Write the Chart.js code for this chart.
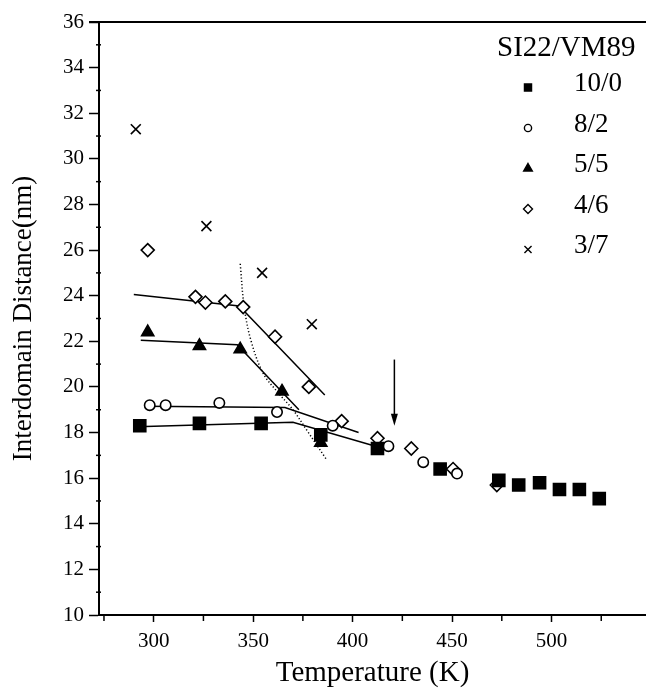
<!DOCTYPE html>
<html>
<head>
<meta charset="utf-8">
<script src="https://cdn.jsdelivr.net/npm/chart.js@4/dist/chart.umd.min.js"></script>
<style>
  html, body { margin: 0; padding: 0; background: #fff; }
  #wrap { width: 646px; height: 688px; }
</style>
</head>
<body>
<div id="wrap"><canvas id="chart" width="646" height="688"></canvas></div>
<script>
// measured points (Temperature K, Interdomain distance nm)
const sq_x = [293, 323, 354, 384, 412.5, 444, 473.5, 483.5, 494, 504, 514, 524];
const sq_y = [18.3, 18.4, 18.4, 17.9, 17.3, 16.4, 15.9, 15.7, 15.8, 15.5, 15.5, 15.1];

const circ_x = [298, 306, 333, 362, 390, 418, 435.5, 452.5];
const circ_y = [19.2, 19.2, 19.3, 18.9, 18.3, 17.4, 16.7, 16.2];

const tri_x = [297, 323, 343.5, 364.5, 384];
const tri_y = [22.4, 21.8, 21.65, 19.8, 17.55];

const dia_x = [297, 321, 326, 336, 345, 361, 378, 394.5, 412.5, 429.5, 450.5, 472.5];
const dia_y = [26.0, 23.95, 23.7, 23.75, 23.5, 22.2, 20.0, 18.5, 17.75, 17.3, 16.4, 15.7];

const cross_x = [291, 326.5, 354.5, 379.5];
const cross_y = [31.3, 27.05, 25.0, 22.75];

// fitted lines
const fitSq_x = [291.5, 370, 411.5];
const fitSq_y = [18.25, 18.45, 17.4];
const fitCirc_x = [295.5, 366, 403];
const fitCirc_y = [19.15, 19.1, 18.0];
const fitTri_x = [293.5, 342, 373];
const fitTri_y = [22.05, 21.85, 19.0];
const fitDia_x = [290, 343, 386];
const fitDia_y = [24.05, 23.55, 19.65];

// dotted guide curve
const dot_x = [343.5, 345.5, 349, 355, 362, 370, 377, 387];
const dot_y = [25.4, 23.5, 22.0, 20.6, 19.8, 19.0, 18.1, 16.8];

// arrow
const arrow_x = [421, 421];
const arrow_y = [21.2, 18.3];

const xTicks = [275, 300, 325, 350, 375, 400, 425, 450, 475, 500, 525];
const legendTitle = 'SI22/VM89';
const legendLabels = ['10/0', '8/2', '5/5', '4/6', '3/7'];

const serif = "'Liberation Serif', 'DejaVu Serif', serif";

function pts(xs, ys) {
    return xs.map((x, i) => ({ x: x, y: ys[i] }));
}

function markerSet(label, xs, ys, m) {
    return {
        label: label,
        data: pts(xs, ys),
        showLine: false,
        pointStyle: m.style,
        pointRadius: m.radius,
        pointBorderWidth: 1.6,
        pointBorderColor: '#000',
        pointBackgroundColor: m.filled ? '#000' : '#fff',
        order: 1
    };
}

function lineSet(xs, ys, dashed) {
    return {
        label: '',
        data: pts(xs, ys),
        showLine: true,
        borderColor: '#000',
        borderWidth: 1.5,
        borderDash: dashed ? [1.2, 2.2] : [],
        tension: dashed ? 0.35 : 0,
        pointRadius: 0,
        fill: false,
        order: 2
    };
}

const markers = [
    { style: 'rect', radius: 8.5, filled: true, legendRadius: 5 },
    { style: 'circle', radius: 5.2, filled: false, legendRadius: 3.6 },
    { style: 'triangle', radius: 7, filled: true, legendRadius: 5 },
    { style: 'rectRot', radius: 6.5, filled: false, legendRadius: 4.5 },
    { style: 'crossRot', radius: 7, filled: false, legendRadius: 5 }
];

const isMajorY = v => v % 2 === 0;
const isMajorX = v => v % 50 === 0;

const framePlugin = {
    id: 'frame',
    afterDraw(chart) {
        const ctx = chart.ctx;
        const area = chart.chartArea;
        const xs = chart.scales.x, ys = chart.scales.y;
        ctx.save();
        ctx.strokeStyle = '#000';
        // top border
        ctx.lineWidth = 2;
        ctx.beginPath();
        ctx.moveTo(area.left - 10, area.top);
        ctx.lineTo(area.right, area.top);
        ctx.stroke();

        // minor ticks
        ctx.lineWidth = 1.5;
        ys.ticks.forEach(t => {
            if (isMajorY(t.value)) return;
            const py = ys.getPixelForValue(t.value);
            ctx.beginPath();
            ctx.moveTo(area.left - 3, py);
            ctx.lineTo(area.left + 2, py);
            ctx.stroke();
        });
        xs.ticks.forEach(t => {
            if (isMajorX(t.value)) return;
            const px = xs.getPixelForValue(t.value);
            ctx.beginPath();
            ctx.moveTo(px, area.bottom);
            ctx.lineTo(px, area.bottom + 6);
            ctx.stroke();
        });

        // arrow
        const ax = xs.getPixelForValue(arrow_x[0]);
        const ay0 = ys.getPixelForValue(arrow_y[0]);
        const ay1 = ys.getPixelForValue(arrow_y[1]);
        ctx.lineWidth = 1.5;
        ctx.beginPath();
        ctx.moveTo(ax, ay0);
        ctx.lineTo(ax, ay1 - 6);
        ctx.stroke();
        ctx.fillStyle = '#000';
        ctx.beginPath();
        ctx.moveTo(ax, ay1);
        ctx.lineTo(ax - 3.5, ay1 - 12);
        ctx.lineTo(ax + 3.5, ay1 - 12);
        ctx.closePath();
        ctx.fill();

        // legend
        ctx.fillStyle = '#000';
        ctx.textBaseline = 'middle';
        ctx.textAlign = 'left';
        ctx.font = '29px ' + serif;
        ctx.fillText(legendTitle, 497, 48);
        ctx.font = '27px ' + serif;
        legendLabels.forEach((lab, i) => {
            const y = 84 + i * 40.5;
            const m = markers[i];
            ctx.fillStyle = m.filled ? '#000' : '#fff';
            ctx.strokeStyle = '#000';
            ctx.lineWidth = 1.4;
            Chart.helpers.drawPoint(ctx, { pointStyle: m.style, radius: m.legendRadius, rotation: 0, borderWidth: 1.4 }, 528, y + 3.5);
            ctx.fillStyle = '#000';
            ctx.fillText(lab, 574, y);
        });
        ctx.restore();
    }
};

new Chart(document.getElementById('chart'), {
    type: 'scatter',
    data: {
        datasets: [
            lineSet(fitSq_x, fitSq_y, false),
            lineSet(fitCirc_x, fitCirc_y, false),
            lineSet(fitTri_x, fitTri_y, false),
            lineSet(fitDia_x, fitDia_y, false),
            lineSet(dot_x, dot_y, true),
            markerSet(legendLabels[0], sq_x, sq_y, markers[0]),
            markerSet(legendLabels[1], circ_x, circ_y, markers[1]),
            markerSet(legendLabels[2], tri_x, tri_y, markers[2]),
            markerSet(legendLabels[3], dia_x, dia_y, markers[3]),
            markerSet(legendLabels[4], cross_x, cross_y, markers[4])
        ]
    },
    options: {
        responsive: false,
        animation: false,
        layout: {
            autoPadding: false,
            padding: { top: 22, right: 0, left: 0, bottom: 0 }
        },
        plugins: {
            legend: { display: false },
            tooltip: { enabled: false }
        },
        scales: {
            x: {
                type: 'linear',
                min: 272.5,
                max: 547.5,
                afterBuildTicks: function(scale) {
                    scale.ticks = xTicks.map(v => ({ value: v }));
                },
                afterFit: function(scale) {
                    scale.height = 73;
                    scale.paddingLeft = 0;
                    scale.paddingRight = 0;
                },
                ticks: {
                    color: '#000',
                    font: { family: serif, size: 21 },
                    padding: 7,
                    maxRotation: 0,
                    autoSkip: false,
                    callback: function(value) {
                        return isMajorX(value) ? String(value) : '';
                    }
                },
                grid: {
                    drawOnChartArea: false,
                    drawTicks: true,
                    tickLength: 7,
                    tickColor: ctx => (ctx.tick && isMajorX(ctx.tick.value)) ? '#000' : 'rgba(0,0,0,0)',
                    tickWidth: 1.5
                },
                border: { display: true, color: '#000', width: 2 },
                title: {
                    display: true,
                    text: 'Temperature (K)',
                    color: '#000',
                    font: { family: serif, size: 29, lineHeight: 1 },
                    padding: { top: 0, bottom: 0 }
                }
            },
            y: {
                type: 'linear',
                min: 10,
                max: 36,
                afterFit: function(scale) {
                    scale.width = 99;
                },
                ticks: {
                    stepSize: 1,
                    color: '#000',
                    font: { family: serif, size: 21 },
                    padding: 5,
                    autoSkip: false,
                    callback: function(value) {
                        return isMajorY(value) ? String(value) : '';
                    }
                },
                grid: {
                    drawOnChartArea: false,
                    drawTicks: true,
                    tickLength: 10,
                    tickColor: ctx => (ctx.tick && isMajorY(ctx.tick.value)) ? '#000' : 'rgba(0,0,0,0)',
                    tickWidth: 1.5
                },
                border: { display: true, color: '#000', width: 2 },
                title: {
                    display: true,
                    text: 'Interdomain Distance(nm)',
                    color: '#000',
                    font: { family: serif, size: 27, lineHeight: 1 },
                    padding: { top: 10, bottom: 0 }
                }
            }
        }
    },
    plugins: [framePlugin]
});
</script>
</body>
</html>
